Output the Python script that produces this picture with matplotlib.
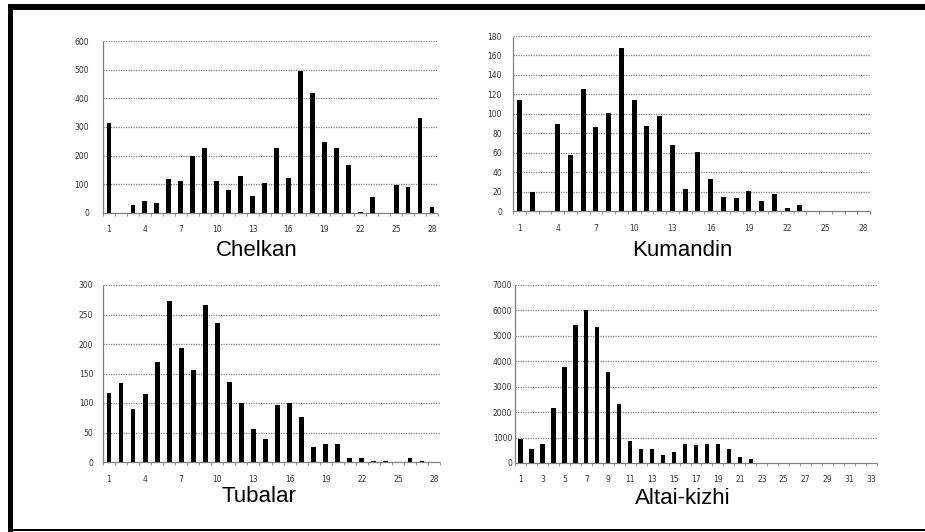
import matplotlib
matplotlib.use("Agg")
import matplotlib.pyplot as plt
from matplotlib.patches import Rectangle
import numpy as np

# Frequency counts per class, one list per group
chelkan = [315, 0, 27, 42, 36, 117, 112, 200, 226, 112, 79, 128, 58, 106,
           226, 121, 495, 419, 247, 228, 167, 5, 55, 0, 98, 91, 331, 20]
kumandin = [114, 20, 0, 90, 58, 125, 86, 101, 168, 114, 87, 98, 68, 23,
            61, 33, 14, 13, 21, 10, 18, 3, 6, 0, 0, 0, 0, 0]
tubalar = [117, 134, 89, 116, 169, 273, 194, 156, 266, 235, 135, 100, 56, 39,
           96, 100, 77, 26, 30, 30, 7, 6, 2, 1, 0, 7, 2, 0]
altai_kizhi = [930, 560, 760, 2160, 3770, 5410, 6000, 5340, 3580, 2330, 875,
               545, 545, 305, 425, 740, 715, 755, 740, 545, 250, 145,
               0, 0, 0, 0, 0, 0, 0, 0, 0, 0, 0]

titles = ["Chelkan", "Kumandin", "Tubalar", "Altai-kizhi"]
series = [chelkan, kumandin, tubalar, altai_kizhi]
y_max = [600, 180, 300, 7000]
y_step = [100, 20, 50, 1000]
x_step = [3, 3, 3, 2]
y_pad = [10, 8, 7, 2]

W, H = 925, 532
# axes boxes in pixels: left, right, top, bottom
boxes = [(103, 438, 41, 213), (513, 870, 36, 211),
         (103, 440, 285, 462), (515, 877, 285, 463)]
title_pos = [(257, 250), (682, 251), (259, 497), (683, 499)]

fig = plt.figure(figsize=(W / 100, H / 100), dpi=100)
fig.patch.set_facecolor("white")

grid_kw = dict(color="#808080", linewidth=0.9, linestyle=(0, (1, 1)))

for vals, title, ymax, ystep, xstep, pad, box, tpos in zip(
        series, titles, y_max, y_step, x_step, y_pad, boxes, title_pos):
    l, r, t, b = box
    ax = fig.add_axes([l / W, 1 - b / H, (r - l) / W, (b - t) / H])
    cats = np.arange(1, len(vals) + 1)
    ax.bar(cats, vals, width=0.4, color="black", zorder=3)
    ax.set_xlim(0.5, len(vals) + 0.5)
    ax.set_ylim(0, ymax)
    yt = np.arange(0, ymax + ystep, ystep)
    ax.set_yticks(yt)
    ax.set_yticklabels([str(v) for v in yt])
    ax.set_xticks(cats[::xstep])
    ax.set_xticklabels([str(c) for c in cats[::xstep]])
    ax.set_xticks(np.arange(0.5, len(vals) + 1, 1), minor=True)
    for v in yt[1:]:
        ax.axhline(v, zorder=1, **grid_kw)
    for side in ("top", "right"):
        ax.spines[side].set_visible(False)
    for side in ("left", "bottom"):
        ax.spines[side].set_color("#808080")
        ax.spines[side].set_linestyle((0, (1, 1)))
        ax.spines[side].set_linewidth(0.9)
    ax.tick_params(axis="y", length=0, pad=pad, labelsize=5.5,
                   labelcolor="#333333")
    ax.tick_params(axis="x", which="major", length=0, pad=9, labelsize=5.5,
                   labelcolor="#333333")
    ax.tick_params(axis="x", which="minor", length=2.5, width=0.6,
                   color="#808080", direction="out")
    fig.text(tpos[0] / W, 1 - tpos[1] / H, title, ha="center", va="center",
             fontsize=16, family="Liberation Sans", color="black")

# page frame: heavy top and left edges, thin bottom edge
fig.add_artist(Rectangle((8 / W, 1 - 10 / H), 1 - 8 / W, 6 / H,
                         transform=fig.transFigure, color="black", lw=0))
fig.add_artist(Rectangle((8 / W, 0), 5 / W, 1 - 4 / H,
                         transform=fig.transFigure, color="black", lw=0))
fig.add_artist(Rectangle((8 / W, 1 / H), 1 - 8 / W, 2 / H,
                         transform=fig.transFigure, color="black", lw=0))

fig.savefig("out.png", dpi=100, facecolor="white")
